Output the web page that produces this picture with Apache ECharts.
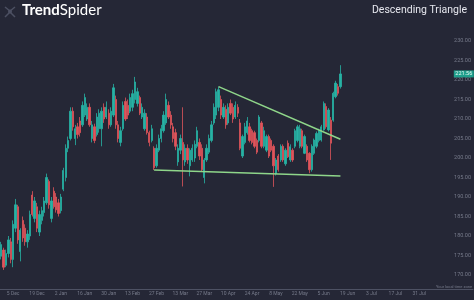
<!DOCTYPE html>
<html><head><meta charset="utf-8">
<script src="https://cdn.jsdelivr.net/npm/echarts@6/dist/echarts.min.js"></script>
<style>html,body{margin:0;padding:0;background:#252736;}#c{width:474px;height:300px;}</style>
</head><body><div id="c"></div>
<script>
// ---- data ----
const startDate = '2022-11-28';
const categoryCount = 198;
const tickDates = ['2022-12-05','2022-12-19','2023-01-02','2023-01-16','2023-01-30','2023-02-13','2023-02-27','2023-03-13','2023-03-27','2023-04-10','2023-04-24','2023-05-08','2023-05-22','2023-06-05','2023-06-19','2023-07-03','2023-07-17','2023-07-31','2023-08-14'];
const tickLabels = ['5 Dec','19 Dec','2 Jan','16 Jan','30 Jan','13 Feb','27 Feb','13 Mar','27 Mar','10 Apr','24 Apr','8 May','22 May','5 Jun','19 Jun','3 Jul','17 Jul','31 Jul',''];
const opens = [174.8,176.4,172.5,175.5,178.5,174.0,182.0,187.5,176.0,184.0,182.0,178.5,180.0,190.5,184.5,187.5,181.0,184.0,186.0,188.5,194.0,184.5,191.5,190.0,188.5,186.5,192.0,195.0,202.5,205.0,212.0,205.0,208.0,209.5,208.5,211.0,210.0,213.0,205.0,208.0,206.0,207.5,207.5,213.0,210.5,211.5,208.5,211.0,
215.0,208.5,204.0,207.5,214.5,213.5,212.0,213.0,215.0,214.0,215.5,210.5,207.5,210.5,206.5,204.5,202.5,198.0,202.0,205.0,207.0,209.0,213.5,211.0,208.0,206.5,199.0,202.0,204.0,199.0,202.5,198.0,199.5,200.0,203.0,204.0,202.5,195.0,199.5,201.5,204.5,209.0,211.0,213.0,215.0,210.5,212.5,209.0,
214.0,213.0,210.5,213.0,209.0,200.5,204.0,206.5,208.0,207.0,206.5,204.5,204.5,209.0,203.0,202.0,205.5,204.5,203.0,196.0,200.5,199.5,203.0,198.5,203.8,199.5,202.0,203.0,204.5,203.0,207.0,201.2,203.0,201.2,197.0,201.2,203.0,204.5,204.6,207.2,213.2,207.2,209.7,209.7,215.7,218.3,218.3];
const closes = [177.8,172.0,175.5,179.0,174.0,183.0,188.0,179.0,181.5,179.5,178.5,180.5,185.5,185.5,189.0,182.0,185.5,186.5,189.0,195.0,188.0,189.0,187.5,186.7,185.8,190.0,196.8,202.5,204.5,212.0,208.0,207.5,206.0,206.5,213.5,215.5,213.0,208.5,208.5,204.5,210.5,211.5,212.0,210.0,213.0,208.5,212.0,218.0,
208.5,205.0,207.0,213.5,210.0,211.0,215.5,216.5,219.5,217.0,211.5,213.0,211.5,206.5,204.0,207.5,197.5,202.5,205.0,207.5,211.0,215.0,210.5,208.5,205.0,203.0,202.5,205.0,199.5,202.5,199.5,202.0,202.5,203.5,207.0,200.5,197.0,199.5,202.5,205.0,208.5,213.0,217.0,217.5,211.0,213.0,208.5,213.0,
211.5,210.0,213.5,211.5,202.5,205.5,208.0,209.5,204.5,204.0,203.0,201.5,210.5,203.0,207.0,205.5,200.5,202.0,198.0,199.5,197.0,203.0,199.5,202.0,200.3,202.9,199.5,207.0,208.0,207.5,203.0,205.5,199.5,197.0,203.0,204.6,206.3,207.0,208.0,214.0,208.0,212.3,203.8,216.6,219.2,216.6,221.56];
const lows = [174.0,171.3,172.0,174.5,173.0,172.0,181.0,178.0,173.5,178.5,177.5,177.0,179.0,185.0,183.5,181.0,180.0,183.0,185.0,188.0,187.0,183.5,187.0,186.0,185.0,185.8,191.5,194.0,201.5,204.5,207.0,203.3,205.0,205.5,208.0,210.5,209.5,208.0,204.0,203.8,205.5,206.5,203.0,209.0,210.0,207.5,208.0,210.5,
207.5,204.0,203.0,207.0,209.5,210.0,211.5,212.0,214.0,213.2,211.0,210.0,207.0,206.0,203.0,204.0,196.9,197.5,201.5,204.0,206.5,208.5,210.0,207.5,204.0,202.0,198.0,201.0,192.7,198.0,198.5,195.3,199.0,199.0,202.5,199.5,196.5,193.5,199.0,201.0,204.0,208.5,210.0,212.0,210.0,210.0,207.5,208.5,
211.0,209.0,210.0,210.5,202.0,200.0,203.5,206.0,204.0,203.5,202.5,201.0,204.0,202.5,202.5,201.5,200.0,201.5,192.6,195.5,196.5,199.0,199.0,198.0,200.0,199.0,199.0,202.5,204.0,202.5,202.5,201.0,199.0,196.1,196.5,200.8,202.5,204.0,204.2,207.0,207.5,206.8,199.5,209.3,215.3,216.0,217.8];
const highs = [178.5,177.0,176.5,180.0,179.5,184.0,189.5,188.0,182.0,185.0,183.0,181.5,186.5,191.5,190.0,188.5,186.5,187.5,190.0,196.0,194.5,190.0,192.5,191.0,189.5,190.8,197.5,203.5,205.5,213.0,213.0,208.5,209.0,210.5,214.5,216.5,214.0,214.0,209.5,208.8,211.5,212.5,213.0,214.0,214.5,212.5,213.0,219.0,
216.0,209.5,208.0,214.5,215.5,215.0,216.5,217.5,220.8,218.0,216.0,214.0,212.5,211.5,207.0,208.5,203.0,203.5,206.0,208.5,212.0,216.5,214.5,212.0,209.0,207.5,203.5,206.0,213.0,203.5,203.5,202.5,203.5,204.5,208.0,205.0,203.5,200.0,203.5,206.0,209.5,214.0,217.8,218.3,216.0,214.0,213.5,214.0,
215.0,214.0,214.5,213.8,210.0,206.0,209.0,210.5,209.0,207.5,207.0,205.0,211.0,209.5,208.0,206.0,206.0,205.0,203.5,200.0,201.0,203.5,203.5,202.5,204.5,203.5,202.5,207.5,208.5,208.5,207.5,206.0,203.5,201.5,203.5,205.0,206.8,207.5,208.5,214.5,214.0,212.8,210.5,217.0,219.8,219.0,223.8];
const lastPrice = 221.56;
const resistanceLine = [[91, 218.3], [142, 204.8]]; // [candle index, price]
const supportLine = [[64, 196.9], [142, 195.4]];
const yTicksMin = 170, yTicksMax = 230;

// ---- build ----
function weekdays(start, n) {
  const out = []; const d = new Date(start + 'T00:00:00Z');
  while (out.length < n) { const w = d.getUTCDay(); if (w !== 0 && w !== 6) out.push(d.toISOString().slice(0, 10)); d.setUTCDate(d.getUTCDate() + 1); }
  return out;
}
const dates = weekdays(startDate, categoryCount);
const candles = opens.map((o, i) => [o, closes[i], lows[i], highs[i]]);
const tickMap = {}; tickDates.forEach((d, i) => tickMap[d] = tickLabels[i]);
const isTick = (idx, val) => Object.prototype.hasOwnProperty.call(tickMap, val);
const UP = '#27b2a4', DOWN = '#e0545b', LINE = '#8fd68a', TXT = '#767a8a';

const chart = echarts.init(document.getElementById('c'), null, {renderer: 'canvas'});
chart.setOption({
  backgroundColor: '#252736',
  animation: false,
  grid: {left: 0, right: 0, top: 2, bottom: 5.5},
  xAxis: {
    type: 'category', data: dates, boundaryGap: true, offset: -5.5,
    axisLine: {lineStyle: {color: '#4d5163', width: 1}},
    axisTick: {interval: isTick, length: 3, lineStyle: {color: '#5a5e70'}},
    axisLabel: {interval: isTick, formatter: v => tickMap[v] || '', fontSize: 5, color: TXT, margin: 2, fontFamily: 'Roboto'},
    splitLine: {show: false}
  },
  yAxis: {
    type: 'value', position: 'right', min: 165, max: 240, interval: 5, scale: true,
    axisLine: {show: false}, axisTick: {show: false}, splitLine: {show: false},
    axisLabel: {inside: true, margin: 2, fontSize: 5.5, color: TXT, fontFamily: 'Roboto',
      formatter: v => (v >= yTicksMin && v <= yTicksMax) ? v.toFixed(2) : ''}
  },
  series: [
    {
      type: 'candlestick', data: candles, barWidth: 1.8,
      itemStyle: {color: UP, color0: DOWN, borderColor: UP, borderColor0: DOWN, borderWidth: 0.8},
      markPoint: {
        symbol: 'rect', symbolSize: [20, 7], symbolOffset: [-8, 0],
        itemStyle: {color: '#1f9f8c'},
        label: {show: true, position: 'inside', formatter: () => lastPrice.toFixed(2), fontSize: 5.5, color: '#eafaf5', fontFamily: 'Roboto'},
        data: [{coord: [dates[categoryCount - 1], lastPrice]}]
      }
    },
    {
      type: 'line', z: 5, showSymbol: false, silent: true,
      lineStyle: {color: LINE, width: 1.5},
      data: resistanceLine.map(p => [dates[p[0]], p[1]])
    },
    {
      type: 'line', z: 5, showSymbol: false, silent: true,
      lineStyle: {color: LINE, width: 1.5},
      data: supportLine.map(p => [dates[p[0]], p[1]])
    }
  ],
  graphic: [
    {type: 'polyline', shape: {points: [[5, 7], [10, 11], [15, 7]]}, style: {stroke: '#4c5062', lineWidth: 1.5, fill: null}},
    {type: 'polyline', shape: {points: [[5, 17], [10, 12], [15, 17]]}, style: {stroke: '#4c5062', lineWidth: 1.5, fill: null}},
    {type: 'circle', shape: {cx: 10, cy: 11.5, r: 2}, style: {fill: '#4c5062'}},
    {type: 'text', left: 22, top: 3, style: {
      text: '{b|Trend}{r|Spider}',
      rich: {b: {fontSize: 15, fontWeight: 'bold', fill: '#ffffff', fontFamily: 'Lato'},
             r: {fontSize: 15, fontWeight: 'normal', fill: '#ffffff', fontFamily: 'Lato'}}
    }},
    {type: 'text', right: 7, top: 5, style: {text: 'Descending Triangle', fontSize: 10.5, fill: '#e6e7ee', fontFamily: 'Roboto'}},
    {type: 'text', right: 2, top: 284.5, style: {text: 'Your local time zone', fontSize: 4, fill: TXT, fontFamily: 'Roboto'}}
  ]
});
</script>
</body></html>
